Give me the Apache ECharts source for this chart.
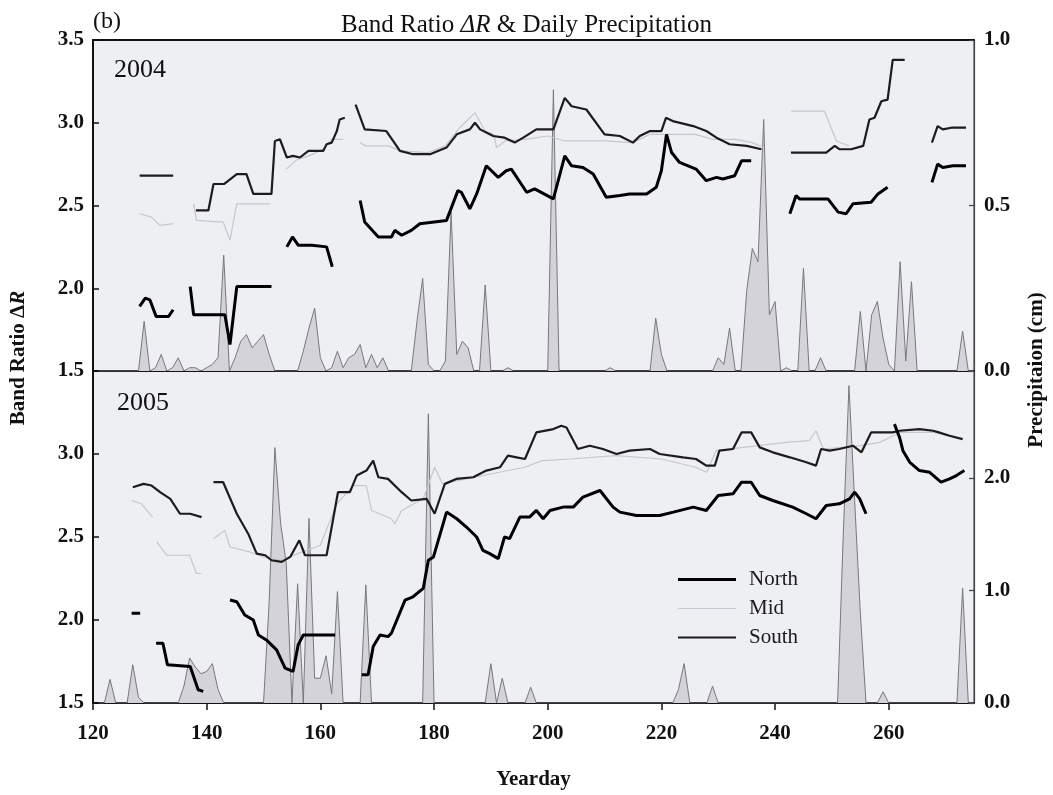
<!DOCTYPE html>
<html>
<head>
<meta charset="utf-8">
<script src="https://cdn.jsdelivr.net/npm/echarts@6/dist/echarts.min.js"></script>
<style>html,body{margin:0;padding:0;background:#fff;}#c{width:1053px;height:795px;}</style>
</head>
<body>
<div id="c"></div>
<script>
// ---------- DATA ----------
const xTicks = [120, 140, 160, 180, 200, 220, 240, 260];
const legendNames = ['North', 'Mid', 'South'];

// Daily precipitation (cm), [yearday, value]
const precip2004 = [[121,0],[128,0],[129,0.15],[130,0],[131,0.01],[132,0.05],[133,0],[134,0.01],[135,0.04],[136,0],[137,0.01],[138,0.01],[139,0],[140,0.01],[141,0.02],[142,0.04],[143,0.35],[144,0],[145,0.04],[146,0.09],[147,0.11],[148,0.07],[149,0.09],[150,0.11],[151,0.05],[152,0],[156,0],[157,0.06],[158,0.13],[159,0.19],[160,0.04],[161,0],[162,0.01],[163,0.06],[164,0.01],[165,0.04],[166,0.05],[167,0.08],[168,0.01],[169,0.05],[170,0.01],[171,0.04],[172,0],[176,0],[177,0.15],[178,0.28],[179,0.02],[180,0],[181,0],[182,0.03],[183,0.48],[184,0.05],[185,0.09],[186,0.07],[187,0],[188,0],[189,0.26],[190,0],[192,0],[193,0.01],[194,0],[200,0],[201,0.85],[202,0],[210,0],[211,0.01],[212,0],[218,0],[219,0.16],[220,0.05],[221,0],[229,0],[230,0.04],[231,0.02],[232,0.13],[233,0],[234,0],[235,0.24],[236,0.37],[237,0.33],[238,0.76],[239,0.17],[240,0.21],[241,0],[242,0.01],[243,0],[244,0],[245,0.31],[246,0],[247,0],[248,0.04],[249,0],[254,0],[255,0.18],[256,0],[257,0.17],[258,0.21],[259,0.1],[260,0.02],[261,0],[262,0.33],[263,0.03],[264,0.27],[265,0],[272,0],[273,0.12],[274,0],[275,0]];
const precip2005 = [[121,0],[122,0],[123,0.21],[124,0],[126,0],[127,0.34],[128,0.05],[129,0],[135,0],[136,0.15],[137,0.40],[138,0.32],[139,0.26],[140,0.28],[141,0.35],[142,0.12],[143,0],[150,0],[151,0.9],[152,2.27],[153,1.6],[154,1.24],[155,0],[156,1.06],[157,0],[158,1.64],[159,0.22],[160,0.22],[161,0.42],[162,0.08],[163,0.99],[164,0],[167,0],[168,1.05],[169,0],[178,0],[179,2.57],[180,0],[189,0],[190,0.35],[191,0],[192,0.22],[193,0],[196,0],[197,0.14],[198,0],[222,0],[223,0.12],[224,0.35],[225,0],[228,0],[229,0.15],[230,0],[251,0],[252,1.5],[253,2.82],[254,1.8],[255,0.8],[256,0],[258,0],[259,0.1],[260,0],[272,0],[273,1.02],[274,0],[275,0]];

// Band ratio ΔR segments, [yearday, value]
const north2004 = [
  [[128.2,1.89],[129.2,1.94],[130,1.93],[131.1,1.83],[133.3,1.83],[134.1,1.87]],
  [[137.1,2.01],[137.7,1.84],[143.2,1.84],[144.1,1.66],[145.3,2.01],[151.4,2.01]],
  [[154.1,2.25],[155.1,2.31],[156.1,2.26],[158.5,2.26],[161.1,2.25],[162.1,2.13]],
  [[167,2.53],[167.8,2.40],[170.2,2.31],[172.5,2.31],[173.1,2.35],[174.3,2.32],[176,2.35],[177.5,2.39],[182.2,2.41],[184.2,2.59],[184.8,2.58],[186.3,2.48],[187.5,2.57],[189.2,2.74],[191.3,2.67],[192.7,2.71],[193.6,2.72],[196.3,2.58],[197.7,2.60],[201,2.54],[203,2.80],[204.2,2.74],[206.2,2.73],[208,2.69],[210.3,2.55],[212.7,2.56],[214.4,2.57],[217.4,2.57],[219.1,2.61],[220,2.71],[220.9,2.93],[221.8,2.82],[223.2,2.76],[226.1,2.72],[227.9,2.65],[229.7,2.67],[230.8,2.66],[232.9,2.68],[234.1,2.77],[235.8,2.77]],
  [[242.6,2.45],[243.7,2.56],[244.3,2.54],[249.3,2.54],[251.1,2.46],[252.5,2.45],[253.7,2.51],[256.9,2.52],[258.1,2.57],[259.8,2.61]],
  [[267.6,2.64],[268.6,2.75],[269.5,2.73],[271.3,2.74],[273.6,2.74]]
];
const south2004 = [
  [[128.2,2.68],[134.1,2.68]],
  [[138.1,2.47],[140.3,2.47],[141.2,2.63],[143.1,2.63],[145.3,2.69],[147,2.69],[148.2,2.57],[151.4,2.57],[152,2.89],[152.9,2.90],[154.1,2.79],[155.2,2.80],[156.4,2.79],[157.9,2.83],[160.5,2.83],[161.1,2.87],[162,2.88],[162.9,2.95],[163.4,3.02],[164.3,3.03]],
  [[166.2,3.11],[167.8,2.96],[171.6,2.95],[172.8,2.89],[174,2.83],[176.3,2.81],[179.3,2.81],[182.2,2.85],[184,2.93],[186.3,2.96],[187.2,3.0],[188.1,2.96],[190.4,2.92],[192.4,2.91],[194.2,2.88],[195.7,2.91],[198,2.96],[201,2.96],[203,3.15],[204.2,3.10],[206.8,3.08],[210,2.93],[212.7,2.92],[215,2.88],[216.2,2.92],[218,2.95],[220,2.95],[220.8,3.03],[222,3.01],[225.6,2.98],[227.9,2.95],[229.7,2.91],[232,2.87],[235,2.86],[237.6,2.84]],
  [[242.8,2.82],[249,2.82],[250.5,2.86],[251.3,2.84],[253.4,2.84],[255.5,2.86],[256.6,3.02],[257.5,3.03],[258.7,3.13],[259.8,3.14],[260.7,3.38],[262.8,3.38]],
  [[267.6,2.88],[268.6,2.98],[269.5,2.96],[271,2.97],[273.6,2.97]]
];
const mid2004 = [
  [[128.2,2.45],[130.3,2.43],[131.8,2.38],[134.1,2.39]],
  [[137.7,2.51],[138.2,2.41],[142.9,2.40],[144.1,2.29],[145.3,2.51],[151.1,2.51]],
  [[154,2.72],[156,2.78],[158,2.80],[160.5,2.84],[162,2.90],[164,2.90]],
  [[167,2.88],[168,2.86],[172,2.86],[174,2.83],[179,2.82],[182,2.86],[184.5,2.97],[187.2,3.06],[189,2.95],[190.5,2.93],[191,2.85],[192.5,2.89],[196,2.90],[200,2.92],[203,2.89],[210,2.89],[215,2.88],[218,2.93],[226,2.93],[229,2.90],[233,2.90],[236,2.88],[238,2.85]],
  [[242.8,3.07],[248.7,3.07],[250.8,2.89],[253,2.86]]
];
const north2005 = [
  [[126.8,2.04],[128.3,2.04]],
  [[131.1,1.86],[132.3,1.86],[133.1,1.73],[137.1,1.72],[138.5,1.58],[139.4,1.57]],
  [[144.1,2.12],[145.3,2.11],[146.7,2.03],[148.2,2.0],[149.1,1.91],[150.5,1.88],[152.3,1.82],[153.8,1.71],[155.2,1.69],[156.1,1.85],[157,1.91],[162.6,1.91]],
  [[167.3,1.67],[168.4,1.67],[169.3,1.84],[170.5,1.91],[171.9,1.90],[172.5,1.92],[174.9,2.12],[176.3,2.14],[178.1,2.19],[179,2.36],[179.9,2.38],[182.2,2.65],[184,2.61],[185.7,2.56],[187.5,2.50],[188.6,2.42],[189.8,2.40],[191.3,2.37],[192.4,2.50],[193.3,2.49],[195.1,2.62],[196.8,2.62],[198,2.66],[199.2,2.61],[200.4,2.66],[202.7,2.68],[204.5,2.68],[206.2,2.74],[209.2,2.78],[211.5,2.68],[212.7,2.65],[215.6,2.63],[219.7,2.63],[222.1,2.65],[225.6,2.68],[227.9,2.66],[230,2.75],[232.6,2.76],[234.1,2.83],[235.8,2.83],[237.3,2.75],[239.6,2.72],[243.1,2.68],[245.5,2.64],[247.2,2.61],[249,2.69],[251.3,2.70],[253.1,2.73],[254,2.77],[254.9,2.73],[256,2.64]],
  [[261,3.18],[261.9,3.10],[262.5,3.02],[263.7,2.95],[265.4,2.90],[267.2,2.89],[269.2,2.83],[270.7,2.85],[271.9,2.87],[273.3,2.90]]
];
const south2005 = [
  [[127,2.80],[128.9,2.82],[130.3,2.81],[131.8,2.77],[133.6,2.73],[135.3,2.64],[137.1,2.64],[139.1,2.62]],
  [[141.2,2.83],[142.9,2.83],[145.3,2.64],[147.3,2.52],[148.8,2.40],[150.3,2.39],[151.4,2.36],[153.2,2.35],[154.7,2.38],[156.3,2.48],[157.3,2.39],[161.1,2.39],[163.1,2.77],[165.2,2.77],[166.4,2.87],[168.1,2.90],[169.3,2.96],[170.2,2.86],[171.9,2.85],[174.3,2.77],[176,2.72],[178.7,2.73],[180.1,2.64],[181.9,2.82],[183.9,2.85],[186.9,2.86],[189.2,2.90],[191.6,2.92],[193,2.99],[194.5,2.98],[196,2.97],[198,3.13],[201,3.15],[202.4,3.17],[203.3,3.16],[205.3,3.03],[207.4,3.05],[209.7,3.03],[212.1,3.0],[214.4,3.02],[218,3.03],[219.7,3.0],[223.8,2.98],[226.1,2.97],[227.9,2.93],[229.4,2.93],[230.2,3.02],[232.6,3.03],[234.1,3.13],[235.8,3.13],[237.3,3.04],[239.6,3.01],[242.6,2.98],[245.5,2.95],[247.2,2.93],[248.1,3.03],[249.6,3.02],[251.3,3.03],[253.7,3.05],[255.2,3.01],[256.9,3.13],[260.7,3.13],[261.9,3.14],[265.4,3.15],[267.8,3.14],[268.8,3.13],[270.7,3.11],[273,3.09]]
];
const mid2005 = [
  [[126.8,2.72],[128.5,2.70],[130.5,2.62]],
  [[131.2,2.47],[133,2.39],[137,2.39],[138.2,2.28],[139.1,2.28]],
  [[141.2,2.49],[143.2,2.54],[144.1,2.44],[147.6,2.41],[150,2.38],[153,2.36],[156,2.40],[160,2.45],[162.9,2.70],[165.8,2.81],[168.1,2.81],[169,2.66],[172.5,2.61],[173.1,2.58],[174.3,2.66],[178.1,2.73],[180.1,2.92],[181.5,2.82],[187,2.86],[196,2.92],[199,2.96],[204,2.97],[212,2.99],[220,2.97],[226,2.92],[228,2.89],[229.6,3.02],[242,3.07],[246,3.08],[247.2,3.14],[248.5,3.03],[255,3.05],[258.4,3.07],[262,3.13],[268,3.13],[273,3.09]]
];

// ---------- CHART ----------
const FONT = "'Liberation Serif', 'DejaVu Serif', serif";
function join(segs) {
  const out = [];
  segs.forEach((s, i) => {
    if (i > 0) {
      const a = segs[i - 1][segs[i - 1].length - 1][0];
      out.push([(a + s[0][0]) / 2, '-']);
    }
    s.forEach(p => out.push(p));
  });
  return out;
}
const fmt1 = v => Number(v).toFixed(1);
const labelStyle = { fontFamily: FONT, fontSize: 21, fontWeight: 'bold', color: '#111' };
const styles = {
  North: { color: '#000000', width: 3 },
  Mid: { color: '#c6c6ce', width: 1.2 },
  South: { color: '#1c1c1c', width: 2.2 }
};
// legend icon: a bar of the line's thickness centred in a 58x14 box
function barIcon(w) {
  const y0 = (7 - w / 2).toFixed(2);
  return 'path://M0,0L0.01,0L0,0ZM0,' + y0 + 'h58v' + w + 'h-58ZM58,14L57.99,14L58,14Z';
}

function xAx(gi, showLabels) {
  return {
    type: 'value', gridIndex: gi, min: 120, max: 275, interval: 20,
    axisLine: { show: true, onZero: false, lineStyle: { color: '#111', width: 2 } },
    axisTick: { show: showLabels, inside: false, length: 7, lineStyle: { color: '#111', width: 1.5 } },
    axisLabel: showLabels ? Object.assign({ show: true, margin: 20, showMaxLabel: false, formatter: v => String(v) }, labelStyle) : { show: false },
    splitLine: { show: false },
    name: showLabels ? 'Yearday' : '',
    nameLocation: 'middle', nameGap: 66,
    nameTextStyle: { fontFamily: FONT, fontSize: 21, fontWeight: 'bold', color: '#111' }
  };
}
function yLeft(gi, showMax) {
  return {
    type: 'value', gridIndex: gi, position: 'left', min: 1.5, max: 3.5, interval: 0.5,
    axisLine: { show: true, onZero: false, lineStyle: { color: '#111', width: 2 } },
    axisTick: { show: true, inside: true, length: 6, lineStyle: { color: '#111', width: 1.5 } },
    axisLabel: Object.assign({ margin: 9, showMaxLabel: showMax, formatter: fmt1 }, labelStyle),
    splitLine: { show: false }
  };
}
function yRight(gi, max, interval) {
  return {
    type: 'value', gridIndex: gi, position: 'right', min: 0, max: max, interval: interval,
    axisLine: { show: true, onZero: false, lineStyle: { color: '#444', width: 1.2 } },
    axisTick: { show: true, inside: true, length: 5, lineStyle: { color: '#444', width: 1.2 } },
    axisLabel: Object.assign({ margin: 10, showMaxLabel: max === 1, formatter: v => (Math.abs(v / interval - Math.round(v / interval)) < 1e-6 ? fmt1(v) : '') }, labelStyle),
    splitLine: { show: false }
  };
}
function precipSeries(data, xi, yi) {
  return {
    type: 'line', name: 'precip', xAxisIndex: xi, yAxisIndex: yi, data: data,
    symbol: 'none', silent: true, z: 1,
    lineStyle: { color: '#77777d', width: 1 },
    areaStyle: { color: '#d3d3d9', opacity: 1 }
  };
}
function lineSeries(name, segs, xi, yi, z) {
  const st = styles[name];
  return {
    type: 'line', name: name, xAxisIndex: xi, yAxisIndex: yi, data: join(segs),
    symbol: 'none', showSymbol: false, connectNulls: false, silent: true, z: z,
    itemStyle: { color: st.color },
    lineStyle: { color: st.color, width: st.width }
  };
}

const chart = echarts.init(document.getElementById('c'), null, { renderer: 'canvas' });
chart.setOption({
  animation: false,
  backgroundColor: '#ffffff',
  title: {
    text: '{n|Band Ratio }{i|ΔR}{n| & Daily Precipitation}',
    left: 'center', top: 8,
    textStyle: { fontWeight: 'normal', rich: {
      n: { fontFamily: FONT, fontSize: 25, fontWeight: 'normal', color: '#111' },
      i: { fontFamily: FONT, fontSize: 25, fontWeight: 'normal', fontStyle: 'italic', color: '#111' }
    } }
  },
  grid: [
    { left: 93, top: 40, width: 881, height: 331, show: true, backgroundColor: '#eeeff2', borderColor: '#333', borderWidth: 1 },
    { left: 93, top: 371, width: 881, height: 332, show: true, backgroundColor: '#eeeff2', borderColor: '#333', borderWidth: 1 }
  ],
  xAxis: [
    xAx(0, false),
    xAx(1, true),
    { type: 'value', gridIndex: 0, position: 'top', min: 120, max: 275,
      axisLine: { show: true, onZero: false, lineStyle: { color: '#111', width: 2 } },
      axisTick: { show: false }, axisLabel: { show: false }, splitLine: { show: false } }
  ],
  yAxis: [
    yLeft(0, true),
    yRight(0, 1, 0.5),
    yLeft(1, false),
    yRight(1, 2.95, 1)
  ],
  legend: {
    data: legendNames.map(n => ({ name: n, icon: barIcon(styles[n].width) })),
    orient: 'vertical', left: 673, top: 564,
    itemWidth: 58, itemHeight: 14, itemGap: 8,
    textStyle: { fontFamily: FONT, fontSize: 21, color: '#1a1a1a', padding: [0, 0, 0, 8] }
  },
  series: [
    precipSeries(precip2004, 0, 1),
    lineSeries('Mid', mid2004, 0, 0, 2),
    lineSeries('South', south2004, 0, 0, 3),
    lineSeries('North', north2004, 0, 0, 4),
    precipSeries(precip2005, 1, 3),
    lineSeries('Mid', mid2005, 1, 2, 2),
    lineSeries('South', south2005, 1, 2, 3),
    lineSeries('North', north2005, 1, 2, 4)
  ],
  graphic: [
    { type: 'text', left: 93, top: 10, style: { text: '(b)', fontFamily: FONT, fontSize: 24, fill: '#111' } },
    { type: 'text', left: 114, top: 57, style: { text: '2004', fontFamily: FONT, fontSize: 26, fill: '#111' } },
    { type: 'text', left: 117, top: 390, style: { text: '2005', fontFamily: FONT, fontSize: 26, fill: '#111' } },
    { type: 'text', x: 19, y: 358, rotation: Math.PI / 2,
      style: { text: '{b|Band Ratio Δ}{bi|R}', align: 'center', verticalAlign: 'middle',
        rich: { b: { fontFamily: FONT, fontSize: 21, fontWeight: 'bold', fill: '#111' },
                bi: { fontFamily: FONT, fontSize: 21, fontWeight: 'bold', fontStyle: 'italic', fill: '#111' } } } },
    { type: 'text', x: 1037, y: 370, rotation: Math.PI / 2,
      style: { text: 'Precipitaion (cm)', align: 'center', verticalAlign: 'middle',
        fontFamily: FONT, fontSize: 21, fontWeight: 'bold', fill: '#111' } }
  ]
});
</script>
</body>
</html>
